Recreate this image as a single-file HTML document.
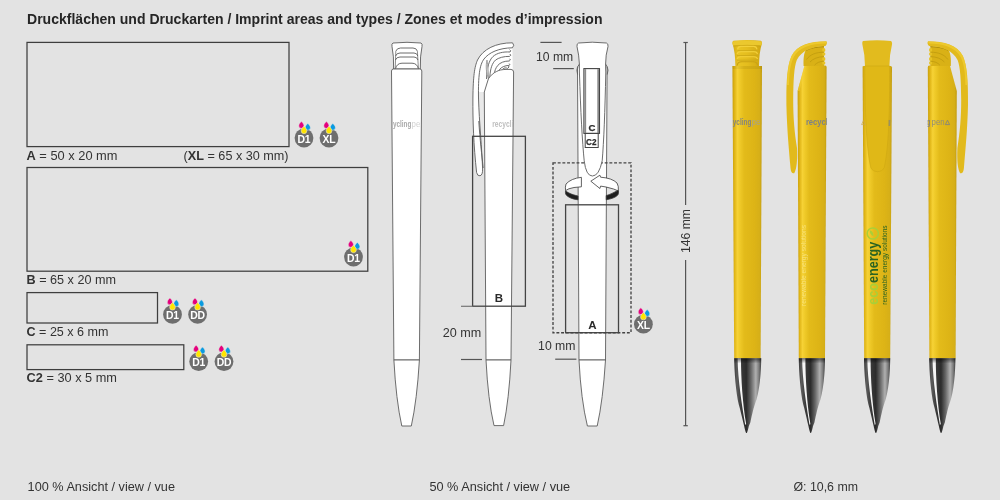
<!DOCTYPE html>
<html><head><meta charset="utf-8">
<style>
html,body{margin:0;padding:0;background:#e3e3e3;width:1000px;height:500px;overflow:hidden}
svg{display:block;will-change:transform}
text{font-family:"Liberation Sans",sans-serif}
</style></head><body>
<svg width="1000" height="500" viewBox="0 0 1000 500">
<defs>
 <path id="drop" d="M0,-4.2 C0.9,-3.2 2.6,-1.8 2.6,0 A2.6,2.6 0 1 1 -2.6,0 C-2.6,-1.8 -0.9,-3.2 0,-4.2Z"/>
 <g id="drops">
  <use href="#drop" transform="translate(-2.6,-12.2)" fill="#e5007d" stroke="#e3e3e3" stroke-width="0.5"/>
  <use href="#drop" transform="translate(3.8,-10.4)" fill="#0a9be0" stroke="#e3e3e3" stroke-width="0.5"/>
  <use href="#drop" transform="translate(0,-7.2) scale(1.1)" fill="#ffe500" stroke="#e3e3e3" stroke-width="0.5"/>
 </g>
 <linearGradient id="yel" x1="0" x2="1" y1="0" y2="0">
  <stop offset="0" stop-color="#cfa70e"/>
  <stop offset="0.12" stop-color="#e7c21c"/>
  <stop offset="0.25" stop-color="#f3d234"/>
  <stop offset="0.45" stop-color="#e8c220"/>
  <stop offset="0.8" stop-color="#deb71a"/>
  <stop offset="1" stop-color="#c9a212"/>
 </linearGradient>
 <linearGradient id="metal" x1="0" x2="1" y1="0" y2="0">
  <stop offset="0" stop-color="#3a3a3a"/>
  <stop offset="0.15" stop-color="#9a9a9a"/>
  <stop offset="0.25" stop-color="#ffffff"/>
  <stop offset="0.35" stop-color="#555"/>
  <stop offset="0.6" stop-color="#3e3e3e"/>
  <stop offset="0.85" stop-color="#8a8a8a"/>
  <stop offset="1" stop-color="#505050"/>
 </linearGradient>
</defs>

<!-- Title -->
<text x="27" y="23.7" font-size="14" font-weight="bold" fill="#262626" textLength="575.5" lengthAdjust="spacingAndGlyphs">Druckflächen und Druckarten / Imprint areas and types / Zones et modes d’impression</text>

<!-- Left column rects -->
<g fill="none" stroke="#3e3e3e" stroke-width="1.25">
 <rect x="27" y="42.4" width="262" height="104.2"/>
 <rect x="27" y="167.5" width="340.8" height="103.7"/>
 <rect x="27" y="292.6" width="130.5" height="30.4"/>
 <rect x="27" y="344.8" width="156.8" height="24.8"/>
</g>
<g font-size="12.6" fill="#333">
 <text x="26.5" y="159.5" textLength="91" lengthAdjust="spacingAndGlyphs"><tspan font-weight="bold">A</tspan> = 50 x 20 mm</text>
 <text x="183.6" y="159.5" textLength="105" lengthAdjust="spacingAndGlyphs">(<tspan font-weight="bold">XL</tspan> = 65 x 30 mm)</text>
 <text x="26.5" y="284.2" textLength="89.5" lengthAdjust="spacingAndGlyphs"><tspan font-weight="bold">B</tspan> = 65 x 20 mm</text>
 <text x="26.5" y="336" textLength="82" lengthAdjust="spacingAndGlyphs"><tspan font-weight="bold">C</tspan> = 25 x 6 mm</text>
 <text x="26.5" y="382.2" textLength="90.5" lengthAdjust="spacingAndGlyphs"><tspan font-weight="bold">C2</tspan> = 30 x 5 mm</text>
</g>

<!-- icons -->
<g id="icons" font-size="10.4" letter-spacing="-0.2" font-weight="bold" fill="#fff" text-anchor="middle">
 <g transform="translate(304,138)"><circle r="9.4" fill="#6e6e6e"/><use href="#drops"/><text y="4.6">D1</text></g>
 <g transform="translate(329,138)"><circle r="9.4" fill="#6e6e6e"/><use href="#drops"/><text y="4.6">XL</text></g>
 <g transform="translate(353.5,257)"><circle r="9.4" fill="#6e6e6e"/><use href="#drops"/><text y="4.6">D1</text></g>
 <g transform="translate(172.5,314.4)"><circle r="9.4" fill="#6e6e6e"/><use href="#drops"/><text y="4.6">D1</text></g>
 <g transform="translate(197.6,314.4)"><circle r="9.4" fill="#6e6e6e"/><use href="#drops"/><text y="4.6">DD</text></g>
 <g transform="translate(198.7,361.6)"><circle r="9.4" fill="#6e6e6e"/><use href="#drops"/><text y="4.6">D1</text></g>
 <g transform="translate(224,361.6)"><circle r="9.4" fill="#6e6e6e"/><use href="#drops"/><text y="4.6">DD</text></g>
 <g transform="translate(643.4,324.2)"><circle r="9.4" fill="#6e6e6e"/><use href="#drops"/><text y="4.6">XL</text></g>
</g>

<!-- Pen 1 white front -->
<g fill="#fff" stroke="#5c5c5c" stroke-width="0.9">
 <path d="M393,43 Q407,41.6 421,43 Q422.6,43.6 422,46.5 Q420,56 420.3,69 L393.6,69 Q394,56 392,46.5 Q391.4,43.6 393,43Z"/>
 <path fill="none" d="M395.8,51.2 Q397,48 400.5,48 L413,48 Q416.5,48 417.4,51.2"/>
 <path fill="none" d="M395.6,56 Q396.5,53 400,53 L414,53 Q417,53 417.8,56"/>
 <path fill="none" d="M395.4,60 Q396.5,57 400,57 L414,57 Q417,57 418,60"/>
 <path fill="none" d="M395.5,68.6 Q397,63.2 402,63.2 L412,63.2 Q417,63.2 418.4,68.6"/>
 <path fill="none" stroke-width="0.7" d="M395.8,51.2 L395.2,68.6 M417.4,51.2 L418.4,68.6"/>
 <path d="M391.5,71 Q391.5,69 393.5,69 L419.8,69 Q421.8,69 421.8,71 L419.4,360 L393.9,360 Z"/>
 <path d="M393.9,360 Q396,400 401.8,426 L411.3,426 Q417,400 419.4,360Z"/>
</g>
<svg x="392.4" y="112" width="27.4" height="20" overflow="hidden"><text y="14.8" font-size="9"><tspan x="0.6" fill="#a9a9a9" font-weight="bold" textLength="18.4" lengthAdjust="spacingAndGlyphs">ycling</tspan><tspan x="19.2" fill="#d2d2d2" textLength="13" lengthAdjust="spacingAndGlyphs">pen</tspan></text></svg>

<!-- Pen 2 white side -->
<g fill="#fff" stroke="#5c5c5c" stroke-width="0.9">
 <path fill="#e9e9e9" stroke="none" d="M478.4,90 L485,90 L485.6,170 L482,170Z"/>
 <!-- head region -->
 <path stroke="none" d="M512.4,47.6 C499,48 489,52 484,59 C480,65 478.8,74 478.6,92 L484.3,92 L488.4,78.8 L512.8,70Z"/>
 <path fill="none" d="M509.6,49.6 Q511.6,50.8 510,52 C503,51.6 497,53 493,56.5 C489,60.5 487,67 486.5,79"/>
 <path fill="none" d="M509.8,54 Q511.8,55.2 509.6,56.4 C504,56.2 498.5,57.8 495.6,60 C492.2,63.2 490.4,68 489.8,77"/>
 <path fill="none" d="M509.6,58.8 Q511.4,60 509.2,61 C504.5,61 500,62.6 497.8,65.4 C495.6,68 494.6,71 494.2,74.5"/>
 <path fill="none" d="M509.2,63.6 Q511,64.6 508.8,65.4 C505,65.6 501.5,67 499.8,69.2 C498.8,70.4 498.2,71.5 498,73"/>
 <path fill="none" d="M508.4,65.6 Q510,67 507.6,68.4 C506,67.6 504,67.8 502.8,69"/>
 <path fill="#d6d6d6" stroke="#777" stroke-width="0.6" d="M487,60 C485.6,66 486,72 488.6,79.5 C488.4,72 488,66 487,60Z"/>
 <!-- clip band -->
 <path d="M512.5,42.8 C496,42.8 483,49 477.5,60 C474.5,67 473.2,76 472.9,98 C472.7,120 473.6,145 476.6,172.5 Q477.4,176.2 480,175.8 Q482.8,175 482.6,169 C482,150 479.2,122 478.5,98 C478.2,76 479.5,65 484,59 C489,52.4 499,48 512.4,47.8 Q515,45.3 512.5,42.8Z"/>
 <path fill="none" d="M478.8,121 C480,140 481.8,155 483.2,168"/>
 <!-- barrel -->
 <path d="M484.3,92 L488.4,78.8 C491,75 494,72.5 496.4,71.6 C499,70 502,69.6 506,69.4 L511,69.4 Q513.5,69.6 513.6,72 L511,360 L486,360 Z"/>
 <path d="M486,360 Q488,400 494,425.6 L503.6,425.6 Q509,400 511,360Z"/>
</g>
<svg x="485" y="112" width="28" height="20" overflow="hidden"><text y="15.1" font-size="9" fill="#bdbdbd" font-weight="bold"><tspan x="7.3" textLength="29" lengthAdjust="spacingAndGlyphs">recycling</tspan></text></svg>

<!-- Pen 3 white back -->
<g fill="#fff" stroke="#5c5c5c" stroke-width="0.9">
 <path d="M577.5,69 Q577.5,66 579.5,64 L605.5,64 Q607.4,66 607.1,69 L605.5,360 L579,360Z"/>
 <path d="M579,360 Q581,400 587.4,426 L597.2,426 Q603,400 605.5,360Z"/>
</g>
<rect x="553" y="162.8" width="78" height="169.9" fill="none" stroke="#444" stroke-width="1.35" stroke-dasharray="2.9,1.8"/>
<g fill="#fff" stroke="#5c5c5c" stroke-width="0.9">
 <path d="M578.6,43 Q592,41.4 606.4,43 Q608.4,43.6 608,46.5 Q605.6,55 605.6,64 Q605.6,70 605.8,72 Q604.6,132 602.2,160.8 Q599,176 592.4,176 Q586,176 584.2,160.8 Q581.3,132 579.4,72 Q579.4,66 579.4,64 Q579,55 577,46.5 Q576.6,43.6 578.6,43Z"/>
 <path fill="none" d="M577.6,66.5 Q576.2,70 577.6,74.5"/>
 <path fill="none" d="M607.2,66.5 Q608.8,70 607.2,74.5"/>
</g>
<rect x="583.9" y="68.6" width="15.6" height="64.8" fill="#fff" stroke="#444" stroke-width="1.1"/>
<rect x="584.45" y="69.1" width="1.7" height="64" fill="#8a8a8a"/><rect x="597.3" y="69.1" width="1.7" height="64" fill="#8a8a8a"/>
<rect x="585.2" y="133.4" width="13" height="14.1" fill="none" stroke="#444" stroke-width="1"/>
<text x="591.9" y="131.4" font-size="9.6" font-weight="bold" fill="#2a2a2a" stroke="#2a2a2a" stroke-width="0.25" text-anchor="middle">C</text>
<text x="591.3" y="144.6" font-size="9.6" font-weight="bold" fill="#2a2a2a" stroke="#2a2a2a" stroke-width="0.25" text-anchor="middle" textLength="10.4" lengthAdjust="spacingAndGlyphs">C2</text>

<!-- rotation arrow -->
<g stroke="#3a3a3a" stroke-width="0.8">
 <path fill="#fff" d="M581.4,177.3 Q571,178.5 566,184 Q565,187 565.6,190.6 Q568,188.5 574,187.5 L581.4,186.8Z"/>
 <path fill="#1e1e1e" d="M565.5,190.8 C567.5,192.5 571.5,194.6 578,196 L578,199.8 C573,199.3 568,197.5 565.8,194.5 C565.4,193.5 565.4,192 565.5,190.8Z"/>
 <path fill="#fff" d="M590.8,181.2 L599.9,175.2 L600.6,177.2 Q612,178 617,183 Q618.8,186 618.4,191 Q615,189 606,187 L600.6,186.1 L599.9,188.5Z"/>
 <path fill="#1e1e1e" d="M617.8,190.4 C614,192.5 610,194.5 606.2,195.6 L606.2,199.8 C611,199 615.5,197.5 617.8,195 C618.5,194 618.7,192.5 618.5,191Z"/>
</g>

<!-- imprint rects -->
<g fill="none" stroke="#444">
 <rect x="565.6" y="204.8" width="52.9" height="127.9" stroke-width="1.3"/>
 <rect x="472.6" y="136.3" width="52.8" height="169.9" stroke-width="1.3"/>
</g>
<text x="592.3" y="329" font-size="11.5" font-weight="bold" fill="#2a2a2a" text-anchor="middle">A</text>
<text x="498.8" y="301.8" font-size="11.5" font-weight="bold" fill="#2a2a2a" text-anchor="middle">B</text>

<!-- dimension lines -->
<g stroke="#555" stroke-width="1.2">
 <line x1="540.4" y1="42.4" x2="561.6" y2="42.4"/>
 <line x1="553.2" y1="68.6" x2="573.8" y2="68.6"/>
 <line x1="461" y1="306.3" x2="472.6" y2="306.3" stroke="#777"/>
 <line x1="461" y1="359.5" x2="482" y2="359.5"/>
 <line x1="555.2" y1="359.2" x2="576.4" y2="359.2"/>
 <line x1="685.6" y1="42.5" x2="685.6" y2="205"/>
 <line x1="685.6" y1="260" x2="685.6" y2="425.7"/>
 <line x1="683.4" y1="42.5" x2="687.8" y2="42.5"/>
 <line x1="683.4" y1="425.7" x2="687.8" y2="425.7"/>
</g>
<g font-size="12.6" fill="#333">
 <text x="536" y="60.6" textLength="37.2" lengthAdjust="spacingAndGlyphs">10 mm</text>
 <text x="442.7" y="336.7" textLength="38.5" lengthAdjust="spacingAndGlyphs">20 mm</text>
 <text x="538.1" y="349.8" textLength="37.4" lengthAdjust="spacingAndGlyphs">10 mm</text>
 <text transform="translate(689.8,253) rotate(-90)" textLength="44" lengthAdjust="spacingAndGlyphs">146 mm</text>
 <text x="27.6" y="491.2" textLength="147.4" lengthAdjust="spacingAndGlyphs">100 % Ansicht / view / vue</text>
 <text x="429.4" y="491.2" textLength="140.8" lengthAdjust="spacingAndGlyphs">50 % Ansicht / view / vue</text>
 <text x="793.5" y="491.2" textLength="64.5" lengthAdjust="spacingAndGlyphs">Ø: 10,6 mm</text>
</g>

<!-- Yellow pens -->
<defs>
 <linearGradient id="yb" x1="0" x2="1" y1="0" y2="0">
  <stop offset="0" stop-color="#c9a00c"/>
  <stop offset="0.07" stop-color="#dfb416"/>
  <stop offset="0.17" stop-color="#f6d236"/>
  <stop offset="0.24" stop-color="#f0cb2a"/>
  <stop offset="0.4" stop-color="#e3bb1a"/>
  <stop offset="0.75" stop-color="#ddb416"/>
  <stop offset="0.92" stop-color="#d6af18"/>
  <stop offset="1" stop-color="#c29c10"/>
 </linearGradient>
 <linearGradient id="ybR" x1="1" x2="0" y1="0" y2="0">
  <stop offset="0" stop-color="#c9a00c"/>
  <stop offset="0.07" stop-color="#dfb416"/>
  <stop offset="0.17" stop-color="#f6d236"/>
  <stop offset="0.24" stop-color="#f0cb2a"/>
  <stop offset="0.4" stop-color="#e3bb1a"/>
  <stop offset="0.75" stop-color="#ddb416"/>
  <stop offset="0.92" stop-color="#d6af18"/>
  <stop offset="1" stop-color="#c29c10"/>
 </linearGradient>
 <linearGradient id="ybot" x1="0" x2="0" y1="0" y2="1">
  <stop offset="0" stop-color="#000" stop-opacity="0"/>
  <stop offset="0.985" stop-color="#000" stop-opacity="0"/>
  <stop offset="1" stop-color="#000" stop-opacity="0.12"/>
 </linearGradient>
 <linearGradient id="ycap" x1="0" x2="1" y1="0" y2="0">
  <stop offset="0" stop-color="#d2a810"/>
  <stop offset="0.2" stop-color="#e9c423"/>
  <stop offset="0.5" stop-color="#e4bd1e"/>
  <stop offset="1" stop-color="#cfa612"/>
 </linearGradient>
 <linearGradient id="mt" x1="0" x2="1" y1="0" y2="0">
  <stop offset="0" stop-color="#3c3c3c"/>
  <stop offset="0.1" stop-color="#5c5c5c"/>
  <stop offset="0.26" stop-color="#3a3a3a"/>
  <stop offset="0.45" stop-color="#2c2c2c"/>
  <stop offset="0.62" stop-color="#666"/>
  <stop offset="0.8" stop-color="#b0b0b0"/>
  <stop offset="0.92" stop-color="#7a7a7a"/>
  <stop offset="1" stop-color="#404040"/>
 </linearGradient>
 <linearGradient id="mtop" x1="0" x2="0" y1="0" y2="1">
  <stop offset="0" stop-color="#000" stop-opacity="0.55"/>
  <stop offset="0.07" stop-color="#000" stop-opacity="0"/>
 </linearGradient>
 <path id="tip0" d="M0,0 L27,0 C27,12 25.5,35 20.7,46 C19,51 17,60 16.2,64 L14.6,68 C14,71 13,74.8 12.3,74.8 C11.6,74.8 10.6,71 10,68 L9,64 C7.6,58 6,51 4.5,46 C1.8,35 0,12 0,0Z"/>
 <g id="tip"><use href="#tip0"/><path d="M3.4,0 L6.8,0 C6.8,20 8.4,45 12,66 L11,66.5 C8,48 3.6,22 3.4,0Z" fill="#fff" opacity="0.95"/></g>
</defs>

<!-- Y1 -->
<path d="M733.5,40.8 Q747,39.2 760.8,40.8 Q762.2,41.5 761.8,44 Q759.2,52 759,66 L735.4,66 Q735.2,52 732.6,44 Q732.2,41.5 733.5,40.8Z" fill="url(#ycap)"/>
<path d="M733,41.2 Q747,39.6 761,41.2 Q762,42 761.8,43.5 Q761.5,45.5 760.8,45.8 Q747,44.6 733.6,45.8 Q732.8,45.5 732.6,43.5 Q732.3,42 733,41.2Z" fill="#ebc82e"/>
<path d="M733.8,45.9 Q747,44.8 760.6,45.9" fill="none" stroke="#c29c10" stroke-width="0.7"/>
<g fill="none" stroke-width="1.1">
 <path d="M737.5,49.4 Q738,46.4 741,46.4 L753.5,46.4 Q756.5,46.4 757,49.4" stroke="#f3d03a"/>
 <path d="M737,54.2 Q737.6,51.6 740.5,51.6 L754,51.6 Q757,51.6 757.5,54.2" stroke="#f3d03a"/>
 <path d="M737,59 Q737.6,56.8 740.5,56.8 L754,56.8 Q757,56.8 757.5,59" stroke="#f3d03a"/>
 <path d="M737.2,65.5 Q737.8,61.8 741.5,61.8 L753.5,61.8 Q757,61.8 757.6,65.5" stroke="#c9a214"/>
 <path d="M737.5,50.6 L757,50.6 M737,55.5 L757.5,55.5 M737,60.2 L757.5,60.2" stroke="#cda816" stroke-width="0.8"/>
</g>
<path d="M732.4,66 L762,66 L760.6,358.4 L734.2,358.4Z" fill="url(#yb)"/>
<path d="M732.4,66 L762,66 L761.9,69 L732.5,69Z" fill="#000" opacity="0.06"/>
<g transform="translate(734.2,358.2)"><use href="#tip0" fill="url(#mt)"/><path d="M3.4,0 L6.8,0 C6.8,20 8.4,45 12,66 L11,66.5 C8,48 3.6,22 3.4,0Z" fill="#fff" opacity="0.95"/><use href="#tip0" fill="url(#mtop)"/></g>

<!-- Y2 -->
<path d="M804.5,65.6 L825.2,65.6 Q826.6,65.8 826.6,67.5 L825,358.4 L798.8,358.4 L797.6,91 Z" fill="url(#yb)"/>
<path d="M804.5,65.8 L797.6,91 L799.5,91 L806,66 Z" fill="#f2cf35" opacity="0.6"/>
<path d="M805.5,50.6 C811,47.6 817,46.2 824,46 L824,66 L803.6,66 C803.2,60 803.8,54 805.5,50.6Z" fill="#d9b116"/>
<g fill="#e6c226"><ellipse cx="823.8" cy="50" rx="1.6" ry="2.1"/><ellipse cx="823.8" cy="54" rx="1.6" ry="1.8"/><ellipse cx="823.8" cy="59" rx="1.6" ry="2.1"/><ellipse cx="823.8" cy="63" rx="1.6" ry="1.8"/></g>
<g fill="none" stroke="#bf9a0e" stroke-width="0.8">
 <path d="M806,50.6 C810,48.2 816,46.9 824,46.7" stroke="#9c7e06"/>
 <path d="M824,52.2 C816,52.2 810,54.5 806.5,59.5"/>
 <path d="M824,56.6 C818,56.8 813,58.6 810,62"/>
 <path d="M824,61.2 C820,61.4 816.5,62.7 814.5,65.2"/>
</g>
<path d="M826.4,41.2 Q827.8,43.5 825.4,46 C812,46.6 801.5,50.5 796.8,60 C794,67 793.4,80 793.2,100 C793.2,118 794.5,132 797,148 C797.6,160 796.6,170 794.2,173.2 C792.2,173.9 790.8,172 790.5,168 C789,150 787,130 786.4,105 C786.2,80 787.2,66 791.5,56 C797,45 810,41.2 826.4,41.2Z" fill="#e2ba1c"/>
<path d="M826.4,41.4 C810,41.4 797,45.2 791.5,56 C788.5,63 787.4,72 787,85 L789,85 C789.2,72 790.5,64 793.5,57.5 C798.5,47.6 811,43.6 826,43.6Z" fill="#f0cd32" opacity="0.8"/>
<g transform="translate(798.8,358.2) scale(0.97,1)"><use href="#tip0" fill="url(#mt)"/><path d="M3.4,0 L6.8,0 C6.8,20 8.4,45 12,66 L11,66.5 C8,48 3.6,22 3.4,0Z" fill="#fff" opacity="0.95"/><use href="#tip0" fill="url(#mtop)"/></g>

<!-- Y3 -->
<path d="M863,41 Q877,39.6 891,41 Q892.4,41.8 892,44.5 Q889.4,55 889.4,66 L865,66 Q865,55 862.4,44.5 Q862,41.8 863,41Z" fill="#e2bb1e"/>
<path d="M862.6,66.5 Q862.6,66 864,66 L890.6,66 Q892,66 892,67.5 L890.2,358.4 L864.2,358.4Z" fill="url(#yb)"/>
<path d="M864.8,66 L889.6,66 C889.8,110 888.6,150 884.2,167.5 C882.4,173 872.6,173 870.8,167.5 C866.4,150 864.8,110 864.8,66Z" fill="#e0b817" stroke="#cfa712" stroke-width="0.6"/>
<path d="M888.6,120 L890.4,120 L890.2,126 L888.6,126Z" fill="#8a8a78" opacity="0.8"/>
<g transform="translate(864,358.2) scale(0.97,1)"><use href="#tip0" fill="url(#mt)"/><path d="M3.4,0 L6.8,0 C6.8,20 8.4,45 12,66 L11,66.5 C8,48 3.6,22 3.4,0Z" fill="#fff" opacity="0.95"/><use href="#tip0" fill="url(#mtop)"/></g>

<!-- Y4 (mirror of Y2) -->
<g transform="translate(1754.4,0) scale(-1,1)">
<path d="M804.5,65.6 L825.2,65.6 Q826.6,65.8 826.6,67.5 L825,358.4 L798.8,358.4 L797.6,91 Z" fill="url(#ybR)"/>
<path d="M805.5,50.6 C811,47.6 817,46.2 824,46 L824,66 L803.6,66 C803.2,60 803.8,54 805.5,50.6Z" fill="#d9b116"/>
<g fill="#e6c226"><ellipse cx="823.8" cy="50" rx="1.6" ry="2.1"/><ellipse cx="823.8" cy="54" rx="1.6" ry="1.8"/><ellipse cx="823.8" cy="59" rx="1.6" ry="2.1"/><ellipse cx="823.8" cy="63" rx="1.6" ry="1.8"/></g>
<g fill="none" stroke="#bf9a0e" stroke-width="0.8">
 <path d="M806,50.6 C810,48.2 816,46.9 824,46.7" stroke="#9c7e06"/>
 <path d="M824,52.2 C816,52.2 810,54.5 806.5,59.5"/>
 <path d="M824,56.6 C818,56.8 813,58.6 810,62"/>
 <path d="M824,61.2 C820,61.4 816.5,62.7 814.5,65.2"/>
</g>
<path d="M826.4,41.2 Q827.8,43.5 825.4,46 C812,46.6 801.5,50.5 796.8,60 C794,67 793.4,80 793.2,100 C793.2,118 794.5,132 797,148 C797.6,160 796.6,170 794.2,173.2 C792.2,173.9 790.8,172 790.5,168 C789,150 787,130 786.4,105 C786.2,80 787.2,66 791.5,56 C797,45 810,41.2 826.4,41.2Z" fill="#e2ba1c"/>
<path d="M826.4,41.4 C810,41.4 797,45.2 791.5,56 C788.5,63 787.4,72 787,85 L789,85 C789.2,72 790.5,64 793.5,57.5 C798.5,47.6 811,43.6 826,43.6Z" fill="#f0cd32" opacity="0.8"/>
</g>
<g transform="translate(929.2,358.2) scale(0.97,1)"><use href="#tip0" fill="url(#mt)"/><path d="M3.4,0 L6.8,0 C6.8,20 8.4,45 12,66 L11,66.5 C8,48 3.6,22 3.4,0Z" fill="#fff" opacity="0.95"/><use href="#tip0" fill="url(#mtop)"/></g>

<!-- texts on yellow pens -->
<svg x="732.6" y="110" width="28" height="20" overflow="hidden">
 <text y="15.1" font-size="8.6" fill="#85857c"><tspan x="0.2" font-weight="bold" textLength="18.6" lengthAdjust="spacingAndGlyphs">ycling</tspan><tspan x="19" fill="#a6a38c" textLength="13.5" lengthAdjust="spacingAndGlyphs">pen</tspan></text>
</svg>
<svg x="798" y="110" width="28.5" height="20" overflow="hidden">
 <text y="15.3" font-size="9.2" font-weight="bold" fill="#7d8288"><tspan x="7.9" textLength="33.5" lengthAdjust="spacingAndGlyphs">recycling</tspan></text>
</svg>
<svg x="927.6" y="110" width="28.5" height="20" overflow="hidden">
 <text y="15.1" font-size="8.6" fill="#85857c"><tspan x="-17" font-weight="bold" textLength="20" lengthAdjust="spacingAndGlyphs">ycling</tspan><tspan x="4" fill="#8f8c7a" textLength="13" lengthAdjust="spacingAndGlyphs">pen</tspan></text>
 <path d="M17.8,14.6 L19.9,10.2 L22,14.6Z" fill="none" stroke="#85857c" stroke-width="0.9"/>
</svg>
<path d="M861.6,124.6 L863.4,120.6 L865.2,124.6Z" fill="none" stroke="#c8a850" stroke-width="0.7"/>
<g transform="translate(878,304.7) rotate(-90)">
 <text x="0" y="0" font-size="15.5" font-weight="bold" textLength="63" lengthAdjust="spacingAndGlyphs"><tspan fill="#a9cf38">eco</tspan><tspan fill="#2a6322">energy</tspan></text>
 <text x="0" y="8.6" font-size="7.2" fill="#2a6322" textLength="79.3" lengthAdjust="spacingAndGlyphs">renewable energy solutions</text>
 <circle cx="71.2" cy="-5.2" r="5.6" fill="none" stroke="#a9cf38" stroke-width="1.5"/>
 <path d="M68.5,-4.5 Q70.5,-8.5 74.5,-8.2 Q73.5,-4.5 68.5,-4.5Z" fill="#a9cf38"/>
</g>
<g transform="translate(805.6,306) rotate(-90)" opacity="0.5">
 <text x="0" y="0" font-size="6.8" fill="#fff6c0" textLength="81" lengthAdjust="spacingAndGlyphs">renewable energy solutions</text>
</g>
</svg>
</body></html>
